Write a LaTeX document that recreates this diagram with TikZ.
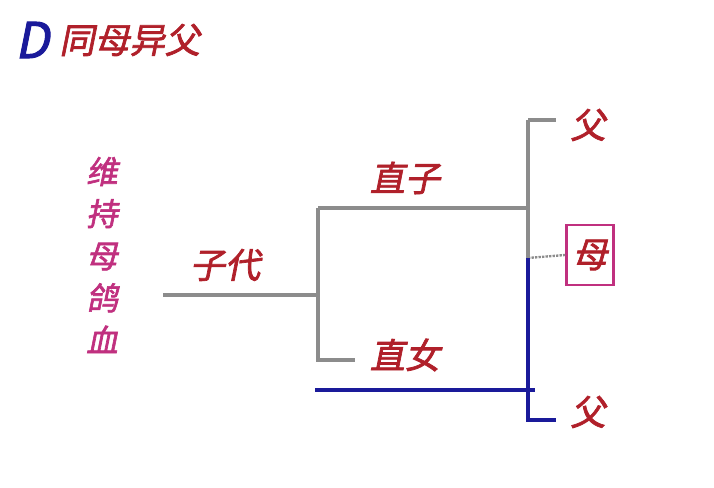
\documentclass[tikz,border=0pt]{standalone}
\usepackage{fontspec}
\usetikzlibrary{positioning}
\newfontfamily\cjk[FakeSlant=0.2,FakeBold=2]{Noto Sans CJK SC}
\definecolor{DarkRed}{HTML}{B0202A}
\definecolor{Magenta}{HTML}{C0307F}
\definecolor{Navy}{HTML}{1A1A9A}
\definecolor{LineGray}{HTML}{8C8C8C}
\tikzset{
  lbl/.style={text=DarkRed, font=\cjk\fontsize{30}{32}\selectfont, inner sep=1pt},
  gline/.style={LineGray, line width=3pt},
  bline/.style={Navy, line width=3pt}
}
\begin{document}
\begin{tikzpicture}[x=0.03cm,y=-0.03cm]
    \useasboundingbox (0,0) rectangle (714,488);
    % Title
    \node[text=Navy, font=\cjk\fontsize{42}{44}\selectfont, inner sep=0] (dlet) at (32,40) {D};
    \node[lbl, anchor=west] (title) at (58,40) {同母异父};
    \node[text=Magenta, font=\cjk\fontsize{27}{36}\selectfont, align=center] (side) at (102,255) {维\\持\\母\\鸽\\血};

    % Tree points
    \coordinate (root) at (163,295);
    \coordinate (mid) at (318,295);
    \coordinate (up) at (318,208);
    \coordinate (down) at (318,360);
    \coordinate (downend) at (355,360);
    \coordinate (join) at (528,208);
    \coordinate (top) at (528,120);
    \coordinate (topend) at (556,120);
    \coordinate (low) at (528,258);
    \coordinate (bleft) at (315,390);
    \coordinate (bright) at (535,390);
    \coordinate (bbot) at (528,420);
    \coordinate (bend) at (556,420);

    \node[lbl] (zidai) at (225,265) {子代};
    \node[lbl] (zhizi) at (405,178) {直子};
    \node[lbl] (zhinv) at (405,355) {直女};
    \node[lbl] (fa1) at (588,125) {父};
    \node[lbl] (fa2) at (588,412) {父};
    \node[lbl, draw=Magenta, line width=2.5pt, minimum width=1.4cm, minimum height=1.8cm] (mu) at (590,255) {母};

    % Gray lines
    \draw[gline] (root) -- (mid);
    \draw[gline] (up) -- (down) -- (downend);
    \draw[gline] (up) -- (join);
    \draw[gline] (top) -- (topend);
    \draw[gline] (top) -- (low);
    \draw[LineGray, line width=2pt, densely dotted] (low) -- (mu.west);

    % Blue lines
    \draw[bline] (bleft) -- (bright);
    \draw[bline] (low) -- (bbot) -- (bend);
\end{tikzpicture}
\end{document}
